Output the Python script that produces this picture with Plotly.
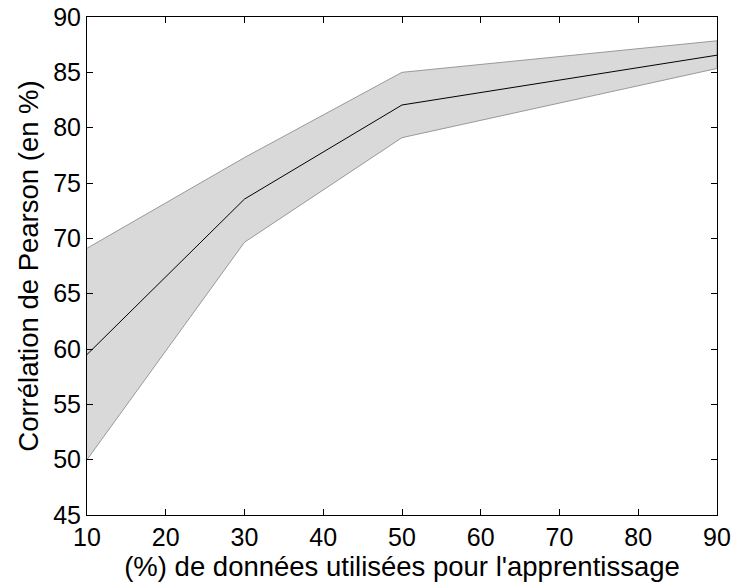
import plotly.graph_objects as go

x_pct = [10, 30, 50, 90]
mean_corr = [59.5, 73.55, 82.05, 86.55]
upper_corr = [69.1, 77.3, 85.0, 87.85]
lower_corr = [50.0, 69.65, 79.1, 85.35]

x_ticks = [10, 20, 30, 40, 50, 60, 70, 80, 90]
y_ticks = [45, 50, 55, 60, 65, 70, 75, 80, 85, 90]

FONT = "Liberation Sans, Arial, Helvetica, sans-serif"
TICK_SIZE = 25
TITLE_SIZE = 27.5

fig = go.Figure()
fig.add_trace(go.Scatter(
    x=x_pct + x_pct[::-1],
    y=upper_corr + lower_corr[::-1],
    fill="toself", fillcolor="#d9d9d9",
    line=dict(color="#999999", width=1),
    mode="lines", hoverinfo="skip", showlegend=False))
fig.add_trace(go.Scatter(
    x=x_pct, y=mean_corr, mode="lines",
    line=dict(color="black", width=1), showlegend=False))

axis_common = dict(
    showgrid=False, zeroline=False, showline=True, linecolor="black",
    linewidth=1, mirror="ticks", ticks="inside", ticklen=6,
    tickcolor="black", tickwidth=1,
    tickfont=dict(family=FONT, size=TICK_SIZE, color="black"),
)
fig.update_xaxes(range=[10, 90], tickvals=x_ticks,
                 title=dict(text="(%) de données utilisées pour l'apprentissage",
                            font=dict(family=FONT, size=TITLE_SIZE, color="black"), standoff=2),
                 **axis_common)
fig.update_yaxes(range=[45, 90], tickvals=y_ticks,
                 title=dict(text="Corrélation de Pearson (en %)",
                            font=dict(family=FONT, size=TITLE_SIZE, color="black"), standoff=6),
                 **axis_common)
fig.update_layout(
    width=733, height=585,
    margin=dict(l=87, r=16, t=17, b=70, autoexpand=False),
    plot_bgcolor="white", paper_bgcolor="white",
    font=dict(family=FONT, color="black"),
)
fig.write_html("out.html",
               config={"displayModeBar": False},
               post_script="document.body.style.margin='0';document.body.style.overflow='hidden';")
